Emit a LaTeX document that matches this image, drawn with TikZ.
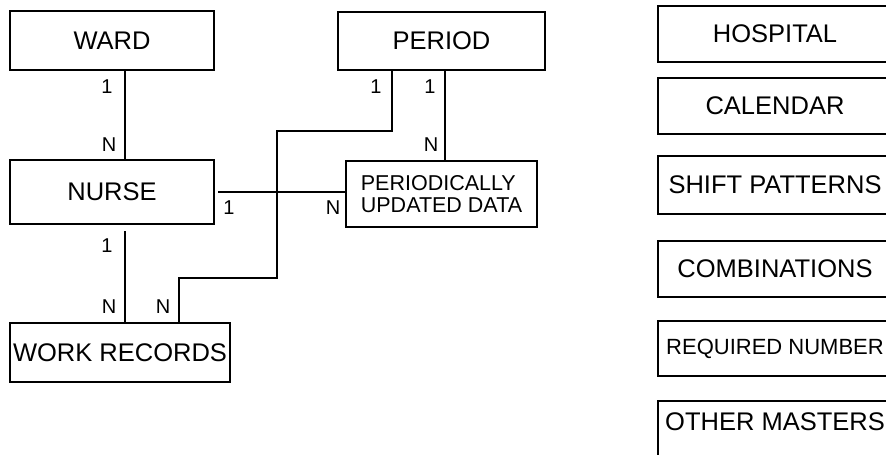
\documentclass[tikz,border=0pt]{standalone}
\usepackage{fontspec}
\setmainfont{Liberation Sans}
\begin{document}
\begin{tikzpicture}[x=1pt,y=-1pt,line width=2.4pt,
  box/.style={draw,line width=2.4pt,rectangle,inner sep=0pt,font=\fontsize{25.5}{27}\selectfont},
  rbox/.style={box,minimum width=234pt},
  lab/.style={inner sep=0pt,font=\fontsize{20}{22}\selectfont},
  conn/.style={line width=2.4pt}]
\useasboundingbox (0,0) rectangle (886,455);
\clip (0,0) rectangle (886,455);
% left entity boxes
\node[box,minimum width=204pt,minimum height=59pt] (ward) at (112,40.5) {WARD};
\node[box,minimum width=207pt,minimum height=58pt] (period) at (441.5,41) {PERIOD};
\node[box,minimum width=204pt,minimum height=64pt] (nurse) at (112,192) {NURSE};
\node[box,minimum width=191pt,minimum height=66pt,align=left,
      font=\fontsize{21.5}{22}\selectfont] (pud) at (441.5,194) {PERIODICALLY\\UPDATED DATA};
\node[box,minimum width=220pt,minimum height=59pt] (wr) at (120,352.5) {WORK RECORDS};
% right master boxes
\node[rbox,minimum height=56pt] (hosp) at (775,34) {HOSPITAL};
\node[rbox,minimum height=56pt] (cal) at (775,106) {CALENDAR};
\node[rbox,minimum height=58pt] (shift) at (775,185) {SHIFT PATTERNS};
\node[rbox,minimum height=56pt] (comb) at (775,269) {COMBINATIONS};
\node[rbox,minimum height=55pt,font=\fontsize{22}{24}\selectfont] (req) at (775,348.5) {REQUIRED NUMBER};
\node[rbox,anchor=north,text height=18pt,text depth=45pt,inner ysep=11pt] (other) at (775,400) {OTHER MASTERS};
% helper coordinates
\coordinate (xa) at (125,0);
\coordinate (xb) at (445,0);
\coordinate (xc) at (392,0);
\coordinate (xd) at (179,0);
\coordinate (yn) at (0,192);
\coordinate (b1) at (392,131);
\coordinate (b2) at (277,131);
\coordinate (b3) at (277,278);
\coordinate (b4) at (179,278);
% connectors
\draw[conn] (ward.south -| xa) -- (nurse.north -| xa);
\draw[conn,shorten <=6pt] (nurse.south -| xa) -- (wr.north -| xa);
\draw[conn] (period.south -| xb) -- (pud.north -| xb);
\draw[conn,shorten <=3pt] (nurse.east |- yn) -- (pud.west |- yn);
\draw[conn] (period.south -| xc) -- (b1) -- (b2) -- (b3) -- (b4) -- (wr.north -| xd);
% cardinality labels
\node[lab] (l1) at (107,87) {1};
\node[lab] (l2) at (109,145) {N};
\node[lab] (l3) at (376,87) {1};
\node[lab] (l4) at (430,87) {1};
\node[lab] (l5) at (431,145) {N};
\node[lab] (l6) at (229,208) {1};
\node[lab] (l7) at (333,208) {N};
\node[lab] (l8) at (107,246) {1};
\node[lab] (l9) at (109,307) {N};
\node[lab] (l10) at (163,307) {N};
\end{tikzpicture}
\end{document}
